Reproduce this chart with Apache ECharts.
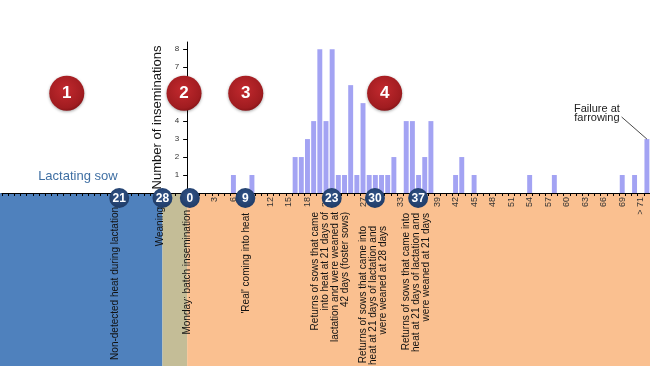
<!DOCTYPE html>
<html>
<head>
<meta charset="utf-8">
<script src="https://cdn.jsdelivr.net/npm/echarts@6/dist/echarts.min.js"></script>
<style>
html,body{margin:0;padding:0;background:#fff;}
#c{width:650px;height:366px;}
</style>
</head>
<body>
<div id="c"></div>
<script>
// ---------- data ----------
// days after batch insemination (category axis), last bar is the "> 71" / failure at farrowing group
const days = [0,1,2,3,4,5,6,7,8,9,10,11,12,13,14,15,16,17,18,19,20,21,22,23,24,25,26,27,28,29,
  30,31,32,33,34,35,36,37,38,39,40,41,42,43,44,45,46,47,48,49,50,51,52,53,54,55,56,57,58,59,
  60,61,62,63,64,65,66,67,68,69,70,71,72,73];
const inseminations = [0,0,0,0,0,0,1,0,0,1, 0,0,0,0,0,0,2,2,3,4, 8,4,8,1,1,6,1,5,1,1,
  1,1,2,0,4,4,1,2,4,0, 0,0,1,2,0,1,0,0,0,0, 0,0,0,0,1,0,0,0,1,0,
  0,0,0,0,0,0,0,0,0,1, 0,1,0,3];
const xTickLabelDays = [3,6,12,15,18,21,27,33,39,42,45,48,51,54,57,60,63,66,69,72];
const xTickLabels = ['3','6','12','15','18','21','27','33','39','42','45','48','51','54','57','60','63','66','69','> 71'];
const yTickValues = [1,2,3,4,5,6,7,8];
const dayMarkers = [0, 9, 23, 30, 37];
const lactationMarkers = [21, 28];
const phaseNumbers = ['1','2','3','4'];
const yAxisTitle = 'Number of inseminations';
const lactationTitle = 'Lactating sow';
const failureTitle = 'Failure at\nfarrowing';
const noteTexts = [
  'Non-detected heat during lactation',
  'Weaning',
  'Monday: batch insemination',
  "'Real' coming into heat",
  'Returns of sows that came\ninto heat at 21 days of\nlactation and were weaned at\n42 days (foster sows)',
  'Returns of sows that came into\nheat at 21 days of lactation and\nwere weaned at 28 days',
  'Returns of sows that came into\nheat at 21 days of lactation and\nwere weaned at 21 days'
];

// ---------- layout ----------
const FONT = '"Liberation Sans", Arial, Helvetica, sans-serif';
const W = 650, H = 366;
const gridLeft = 193.3;
const slotPx = (W - gridLeft) / days.length;
const lactSlots = Array(31).fill('');
const labelMap = {};
xTickLabelDays.forEach((d, i) => { labelMap[d] = xTickLabels[i]; });

const chart = echarts.init(document.getElementById('c'), null, {renderer: 'canvas'});
const gridBase = {top: 42, bottom: 173, outerBoundsMode: 'none', containLabel: false};
chart.setOption({
  animation: false,
  backgroundColor: '#ffffff',
  textStyle: {fontFamily: FONT},
  grid: [
    Object.assign({left: gridLeft, right: 0}, gridBase),
    Object.assign({left: gridLeft - lactSlots.length * slotPx, right: W - gridLeft}, gridBase)
  ],
  xAxis: [
    {
      gridIndex: 0, type: 'category', data: days, boundaryGap: true,
      axisLine: {show: true, lineStyle: {color: '#000', width: 1}},
      axisTick: {show: true, interval: 0, length: 3, lineStyle: {color: '#000'}},
      axisLabel: {
        show: true, interval: 0, rotate: 90, fontSize: 9, color: '#333', margin: 4,
        fontFamily: FONT, padding: [0, 0, 8, 0],
        formatter: (v, i) => labelMap[i] || ''
      },
      splitLine: {show: false}
    },
    {
      gridIndex: 1, type: 'category', data: lactSlots, boundaryGap: true,
      axisLine: {show: true, lineStyle: {color: '#000', width: 1}},
      axisTick: {show: true, interval: 0, length: 3, lineStyle: {color: '#000'}},
      axisLabel: {show: false},
      splitLine: {show: false}
    }
  ],
  yAxis: [
    {
      gridIndex: 0, type: 'value', min: 0, max: 8.4, interval: 1, offset: slotPx,
      name: yAxisTitle, nameLocation: 'middle', nameGap: 22,
      nameTextStyle: {fontSize: 13, color: '#151515', fontFamily: FONT},
      axisLine: {show: true, lineStyle: {color: '#000', width: 1}},
      axisTick: {show: true, length: 4, customValues: yTickValues, lineStyle: {color: '#000'}},
      axisLabel: {show: true, customValues: yTickValues, fontSize: 8, color: '#333', margin: 8, fontFamily: FONT},
      splitLine: {show: false}
    },
    {gridIndex: 1, type: 'value', min: 0, max: 8.4, show: false}
  ],
  series: [{
    type: 'bar', xAxisIndex: 0, yAxisIndex: 0, data: inseminations,
    barWidth: '80%', silent: true,
    itemStyle: {color: '#a3a3f3'}
  }]
});

// ---------- annotations positioned through the axis scales ----------
const x0 = chart.convertToPixel({xAxisIndex: 0}, 0);
const x1 = chart.convertToPixel({xAxisIndex: 0}, 1);
const slot = x1 - x0;
const px = d => x0 + d * slot;             // slot centre (extrapolated)
const bx = d => px(d) - slot / 2;          // slot left boundary
const py = v => chart.convertToPixel({yAxisIndex: 0}, v);
const yBase = py(0);
const weaningDay = -5;                      // weaning position on the day axis
const lactX = L => bx(L - 28 + weaningDay);
const dayX = d => bx(d) - 3.5;
const axisX = bx(-1);

const g = [];
// bands
g.push({type: 'rect', z: -10, shape: {x: 0, y: yBase, width: lactX(28), height: H - yBase}, style: {fill: '#4f81bd'}});
g.push({type: 'rect', z: -10, shape: {x: lactX(28), y: yBase, width: axisX - lactX(28), height: H - yBase}, style: {fill: '#c4bd97'}});
g.push({type: 'rect', z: -10, shape: {x: axisX, y: yBase, width: W - axisX, height: H - yBase}, style: {fill: '#fac090'}});

// notes (vertical)
const noteAnchors = [
  [lactX(21) - 4, 207], [lactX(28) - 2.5, 207], [dayX(0) - 3, 210], [dayX(9) + 1, 213],
  [dayX(23) - 1, 212], [dayX(30) - 1.5, 226], [dayX(37) - 2, 213]
];
noteTexts.forEach((t, i) => {
  g.push({type: 'text', z: 50, x: noteAnchors[i][0], y: noteAnchors[i][1], rotation: Math.PI / 2,
    style: {text: t, fill: '#111', fontSize: 10, lineHeight: 10, fontFamily: FONT, align: 'right', verticalAlign: 'middle'}});
});

// blue circles
const navy = {type: 'radial', x: 0.5, y: 0.4, r: 0.6, colorStops: [{offset: 0, color: '#33558a'}, {offset: 1, color: '#1f3b66'}]};
function blueCircle(cx, label) {
  g.push({type: 'circle', z: 100, shape: {cx: cx, cy: yBase + 5, r: 10}, style: {fill: navy}});
  g.push({type: 'text', z: 101, x: cx, y: yBase + 5.5, style: {text: label, fill: '#fff', fontSize: 12, fontWeight: 'bold', fontFamily: FONT, align: 'center', verticalAlign: 'middle'}});
}
lactationMarkers.forEach(L => blueCircle(lactX(L), String(L)));
dayMarkers.forEach(d => blueCircle(dayX(d), String(d)));

// red phase circles
const phaseDays = [-20.5, -1.5, 8.5, 31];
const red = {type: 'radial', x: 0.45, y: 0.4, r: 0.65, colorStops: [{offset: 0, color: '#c2292e'}, {offset: 0.8, color: '#a01c20'}, {offset: 1, color: '#7e1014'}]};
phaseNumbers.forEach((n, i) => {
  const cx = bx(phaseDays[i]), cy = py(5.55);
  g.push({type: 'circle', z: 100, shape: {cx: cx, cy: cy, r: 17.5}, style: {fill: red, shadowBlur: 3, shadowColor: 'rgba(0,0,0,0.35)', shadowOffsetY: 1}});
  g.push({type: 'text', z: 101, x: cx, y: cy + 0.5, style: {text: n, fill: '#fff', fontSize: 17, fontWeight: 'bold', fontFamily: FONT, align: 'center', verticalAlign: 'middle'}});
});

// lactating sow label
g.push({type: 'text', z: 50, x: bx(-18.7), y: py(0.9), style: {text: lactationTitle, fill: '#3f6fa3', fontSize: 13, fontFamily: FONT, align: 'center', verticalAlign: 'middle'}});

// failure at farrowing
g.push({type: 'text', z: 50, x: bx(65.4), y: py(4.42), style: {text: failureTitle, fill: '#222', fontSize: 11, lineHeight: 9.5, fontFamily: FONT, align: 'center', verticalAlign: 'middle'}});
g.push({type: 'line', z: 50, shape: {x1: bx(69.4), y1: py(4.23), x2: px(73), y2: py(3)}, style: {stroke: '#1a1a1a', lineWidth: 0.8}});

chart.setOption({graphic: g});
</script>
</body>
</html>
